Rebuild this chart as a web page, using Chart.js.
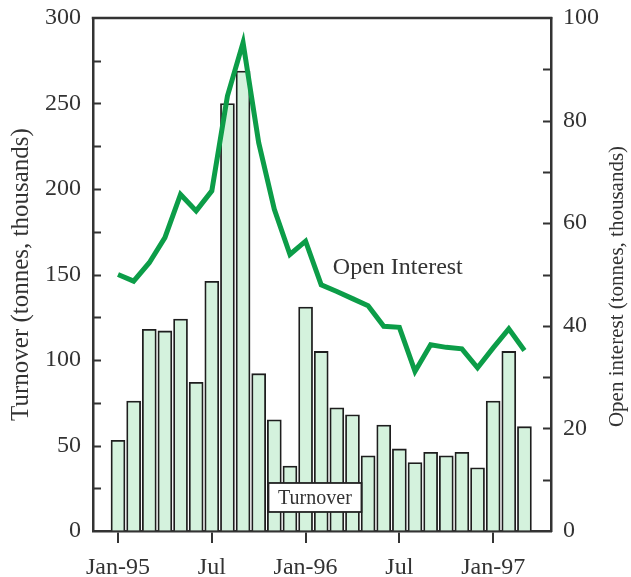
<!DOCTYPE html>
<html>
<head>
<meta charset="utf-8">
<script src="https://cdn.jsdelivr.net/npm/chart.js@4/dist/chart.umd.min.js"></script>
<style>
  html, body { margin: 0; padding: 0; background: #ffffff; }
  #chart { display: block; }
</style>
</head>
<body>
<canvas id="chart" width="631" height="577"></canvas>
<script>
// Monthly turnover and open interest, Jan-95 to Mar-97 (tonnes, thousands)
const months = [
  'Jan-95','Feb-95','Mar-95','Apr-95','May-95','Jun-95','Jul-95','Aug-95','Sep-95',
  'Oct-95','Nov-95','Dec-95','Jan-96','Feb-96','Mar-96','Apr-96','May-96','Jun-96',
  'Jul-96','Aug-96','Sep-96','Oct-96','Nov-96','Dec-96','Jan-97','Feb-97','Mar-97'
];
const turnover = [
  53, 76, 118, 117, 124, 87, 146, 250, 269,
  92, 65, 38, 131, 105, 72, 68, 44, 62,
  48, 40, 46, 44, 46, 37, 76, 105, 61
];
const openInterest = [
  50, 48.7, 52.3, 57.2, 65.6, 62.4, 66.3, 84.8, 95.2,
  75.7, 62.7, 53.9, 56.5, 48, 46.7, 45.3, 43.9, 39.9,
  39.7, 31.1, 36.3, 35.8, 35.5, 31.8, 35.7, 39.4, 35.2
];
// Bottom axis: month index of each labelled tick and its text
const xTickIndex = [0, 6, 12, 18, 24];
const xTickText = ['Jan-95', 'Jul', 'Jan-96', 'Jul', 'Jan-97'];

const SERIF = '"Liberation Serif", "DejaVu Serif", serif';
const INK = '#333333';
const GREEN = '#0c9d48';
const MINT = '#d4f2dd';

const barPoints = turnover.map((v, i) => ({ x: i, y: v }));
const linePoints = openInterest.map((v, i) => ({ x: i, y: v }));

// Frame, inward tick marks, right-hand title and the two series captions
const decorations = {
  id: 'decorations',
  afterDraw(chart) {
    const ctx = chart.ctx;
    const a = chart.chartArea;
    const yL = chart.scales.y;
    const yR = chart.scales.y1;
    const xs = chart.scales.x;
    ctx.save();
    ctx.strokeStyle = INK;
    ctx.lineWidth = 2.5;
    ctx.beginPath();
    ctx.moveTo(a.left - 1.25, a.top);
    ctx.lineTo(a.right + 1.25, a.top);
    ctx.stroke();

    ctx.lineWidth = 2;
    const tl = 8;
    ctx.beginPath();
    for (let v = 25; v < 300; v += 25) {
      const py = Math.round(yL.getPixelForValue(v)) + 0.5;
      ctx.moveTo(a.left, py);
      ctx.lineTo(a.left + tl, py);
    }
    for (let v = 10; v < 100; v += 10) {
      const py = Math.round(yR.getPixelForValue(v)) + 0.5;
      ctx.moveTo(a.right, py);
      ctx.lineTo(a.right - tl, py);
    }
    ctx.stroke();

    // Right axis title, reading bottom to top
    ctx.fillStyle = INK;
    ctx.font = '21px ' + SERIF;
    ctx.textAlign = 'center';
    ctx.textBaseline = 'middle';
    ctx.save();
    ctx.translate(yR.right - 14, (a.top + a.bottom) / 2 + 12);
    ctx.rotate(-Math.PI / 2);
    ctx.fillText('Open interest (tonnes, thousands)', 0, 0);
    ctx.restore();

    // "Open Interest" caption beside the line
    ctx.font = '24px ' + SERIF;
    ctx.fillText('Open Interest', xs.getPixelForValue(17.9), yR.getPixelForValue(51.4));

    // Boxed "Turnover" caption over the bars
    const cx = xs.getPixelForValue(12.6);
    const cy = yL.getPixelForValue(19.6);
    const w = 93, h = 29;
    ctx.fillStyle = '#ffffff';
    ctx.fillRect(cx - w / 2, cy - h / 2, w, h);
    ctx.lineWidth = 1.8;
    ctx.strokeStyle = '#222222';
    ctx.strokeRect(cx - w / 2, cy - h / 2, w, h);
    ctx.fillStyle = INK;
    ctx.font = '20px ' + SERIF;
    ctx.fillText('Turnover', cx, cy + 1);
    ctx.restore();
  }
};

function fitVertical(width) {
  return function (scale) {
    scale.width = width;
    scale.paddingTop = 0;
    scale.paddingBottom = 0;
  };
}

new Chart(document.getElementById('chart'), {
  type: 'bar',
  data: {
    datasets: [
      {
        type: 'line',
        label: 'Open Interest',
        data: linePoints,
        yAxisID: 'y1',
        borderColor: GREEN,
        borderWidth: 5,
        pointRadius: 0,
        tension: 0,
        borderJoinStyle: 'miter',
        order: 0
      },
      {
        type: 'bar',
        label: 'Turnover',
        data: barPoints,
        yAxisID: 'y',
        backgroundColor: MINT,
        borderColor: '#1e1e1e',
        borderWidth: 1.8,
        borderSkipped: 'bottom',
        barThickness: 14,
        order: 1
      }
    ]
  },
  options: {
    responsive: false,
    animation: false,
    layout: { padding: { top: 18, left: 0, right: 0, bottom: 0 } },
    plugins: {
      legend: { display: false },
      tooltip: { enabled: false }
    },
    scales: {
      x: {
        type: 'linear',
        position: 'bottom',
        offset: false,
        min: -1.6,
        max: 27.7,
        afterBuildTicks(scale) {
          scale.ticks = xTickIndex.map(v => ({ value: v }));
        },
        afterFit(scale) { scale.height = 46; },
        ticks: {
          autoSkip: false,
          maxRotation: 0,
          padding: 10,
          color: INK,
          font: { family: SERIF, size: 24 },
          callback(value) {
            const k = xTickIndex.indexOf(value);
            return k >= 0 ? xTickText[k] : '';
          }
        },
        grid: {
          offset: false,
          drawOnChartArea: false,
          drawTicks: true,
          tickLength: 12,
          color: INK,
          lineWidth: 2
        },
        border: { display: true, color: INK, width: 2.5 }
      },
      y: {
        position: 'left',
        min: 0,
        max: 300,
        afterFit: fitVertical(93),
        ticks: {
          stepSize: 50,
          padding: 12,
          color: INK,
          font: { family: SERIF, size: 24 }
        },
        grid: { drawOnChartArea: false, drawTicks: false },
        border: { display: true, color: INK, width: 2.5 },
        title: {
          display: true,
          text: 'Turnover (tonnes, thousands)',
          color: INK,
          font: { family: SERIF, size: 25 },
          padding: { top: 6, bottom: 0 }
        }
      },
      y1: {
        position: 'right',
        min: 0,
        max: 100,
        afterFit: fitVertical(80),
        ticks: {
          stepSize: 20,
          padding: 12,
          color: INK,
          font: { family: SERIF, size: 24 }
        },
        grid: { drawOnChartArea: false, drawTicks: false },
        border: { display: true, color: INK, width: 2.5 }
      }
    }
  },
  plugins: [decorations]
});
</script>
</body>
</html>
